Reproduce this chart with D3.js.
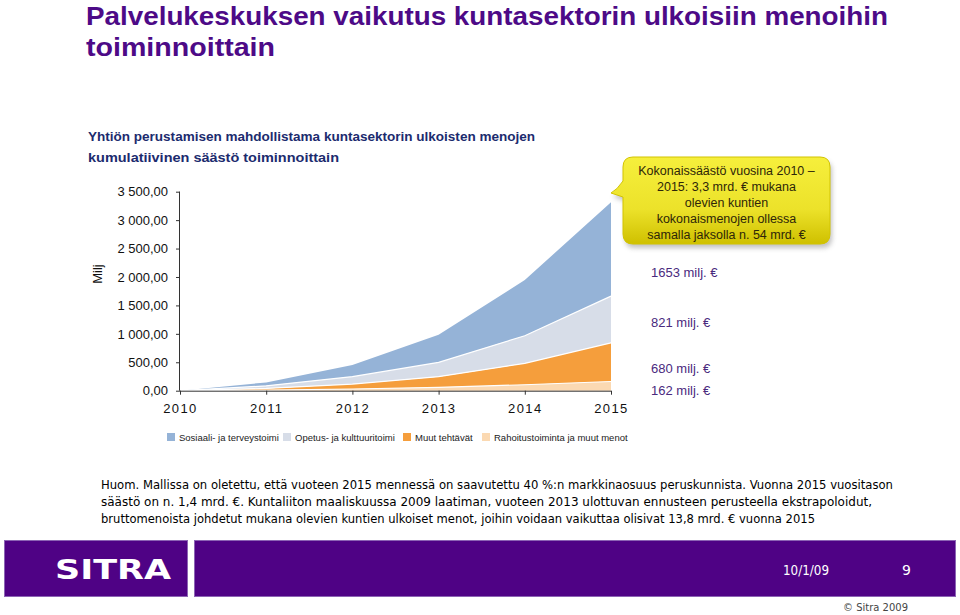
<!DOCTYPE html>
<html lang="fi">
<head>
<meta charset="utf-8">
<title>Palvelukeskuksen vaikutus</title>
<script src="https://d3js.org/d3.v7.min.js"></script>
<style>
  body { margin: 0; background: #fff; }
  svg text { font-family: "Liberation Sans", Arial, sans-serif; }
</style>
</head>
<body>
<svg id="chart" width="960" height="615"></svg>
<script>
// data (milj. euroa, kumulatiivinen)
var years = [2010, 2011, 2012, 2013, 2014, 2015]
var rahoitus = [0, 10, 30, 59, 105, 162]
var muut = [0, 30, 87, 187, 376, 680]
var opetus = [0, 45, 129, 252, 486, 821]
var sosiaali = [0, 60, 205, 487, 979, 1653]

var seriesNames = ["Sosiaali- ja terveystoimi", "Opetus- ja kulttuuritoimi", "Muut tehtävät", "Rahoitustoiminta ja muut menot"]
var seriesColors = ["#95b3d7", "#d7dde8", "#f59e3c", "#fbd9b2"]
var yTicks = [0, 500, 1000, 1500, 2000, 2500, 3000, 3500]
var endLabels = ["1653 milj. €", "821 milj. €", "680 milj. €", "162 milj. €"]

var calloutLines = ["Kokonaissäästö vuosina 2010 –", "2015: 3,3 mrd. € mukana", "olevien kuntien", "kokonaismenojen ollessa", "samalla jaksolla n. 54 mrd. €"]
var noteLines = [
  "Huom. Mallissa on oletettu, että vuoteen 2015 mennessä on saavutettu 40 %:n markkinaosuus peruskunnista. Vuonna 2015 vuositason",
  "säästö on n. 1,4 mrd. €. Kuntaliiton maaliskuussa 2009 laatiman, vuoteen 2013 ulottuvan ennusteen perusteella ekstrapoloidut,",
  "bruttomenoista johdetut mukana olevien kuntien ulkoiset menot, joihin voidaan vaikuttaa olisivat 13,8 mrd. € vuonna 2015"
]

var svg = d3.select("#chart")

// main title
var title = svg.append("g").attr("fill", "#4d0a87")
  .style("font-family", "'DejaVu Sans', Verdana, sans-serif").style("font-weight", "bold").style("font-size", "25px")
title.append("text").attr("x", 86).attr("y", 25).attr("textLength", 802).attr("lengthAdjust", "spacingAndGlyphs")
  .text("Palvelukeskuksen vaikutus kuntasektorin ulkoisiin menoihin")
title.append("text").attr("x", 86).attr("y", 56).attr("textLength", 189).attr("lengthAdjust", "spacingAndGlyphs")
  .text("toiminnoittain")

// chart subtitle
var sub = svg.append("g").attr("fill", "#1c2b6e")
  .style("font-family", "'DejaVu Sans', Verdana, sans-serif").style("font-weight", "bold").style("font-size", "12.5px")
sub.append("text").attr("x", 88).attr("y", 141).attr("textLength", 447).attr("lengthAdjust", "spacingAndGlyphs")
  .text("Yhtiön perustamisen mahdollistama kuntasektorin ulkoisten menojen")
sub.append("text").attr("x", 88).attr("y", 162).attr("textLength", 251).attr("lengthAdjust", "spacingAndGlyphs")
  .text("kumulatiivinen säästö toiminnoittain")

// scales
var x = d3.scaleLinear().domain([2010, 2015]).range([180, 611])
var y = d3.scaleLinear().domain([0, 3500]).range([390.7, 191.7])

// stacked data (bottom to top)
var rows = years.map(function(yr, i) {
  return {year: yr, r: rahoitus[i], m: muut[i], o: opetus[i], s: sosiaali[i]}
})
var keys = ["r", "m", "o", "s"]
var colorOf = {s: seriesColors[0], o: seriesColors[1], m: seriesColors[2], r: seriesColors[3]}
var stack = d3.stack().keys(keys)(rows)

var area = d3.area()
  .x(function(d) { return x(d.data.year) })
  .y0(function(d) { return y(d[0]) })
  .y1(function(d) { return y(d[1]) })

var topLine = d3.line()
  .x(function(d) { return x(d.data.year) })
  .y(function(d) { return y(d[1]) })

svg.append("g").selectAll("path").data(stack).enter().append("path")
  .attr("d", area)
  .attr("fill", function(d) { return colorOf[d.key] })

// thin white separators between layers
svg.append("g").selectAll("path").data(stack.slice(0, 3)).enter().append("path")
  .attr("d", topLine)
  .attr("fill", "none").attr("stroke", "#fff").attr("stroke-width", 1.2)

// axes
var fi = d3.formatLocale({decimal: ",", thousands: " ", grouping: [3], currency: ["", " €"]})
var yAxis = svg.append("g").attr("transform", "translate(180,0)")
  .call(d3.axisLeft(y).tickValues(yTicks).tickFormat(fi.format(",.2f")).tickSize(4).tickPadding(8))
yAxis.selectAll("text").style("font-size", "13px").attr("fill", "#111")
yAxis.selectAll("line, path").attr("stroke", "#333")
yAxis.select(".domain").attr("d", "M-0.5," + y(3500) + "V" + y(0))

var xAxis = svg.append("g").attr("transform", "translate(0," + y(0) + ")")
  .call(d3.axisBottom(x).tickValues(years).tickFormat(d3.format("d")).tickSize(4).tickPadding(9))
xAxis.selectAll("text").style("font-size", "13px").style("letter-spacing", "1.4px").attr("fill", "#111")
xAxis.selectAll("line, path").attr("stroke", "#333")
xAxis.select(".domain").attr("d", "M" + x(2010) + ",0.5H" + x(2015))

svg.append("text").attr("transform", "translate(102,274) rotate(-90)")
  .attr("text-anchor", "middle").style("font-size", "13px").attr("fill", "#111").text("Milj")

// legend
var legendX = [167, 283, 403, 482]
var legend = svg.append("g").selectAll("g").data(seriesNames).enter().append("g")
  .attr("transform", function(d, i) { return "translate(" + legendX[i] + ",433)" })
legend.append("rect").attr("width", 8).attr("height", 8).attr("fill", function(d, i) { return seriesColors[i] })
legend.append("text").attr("x", 12).attr("y", 7.5).style("font-size", "9.5px").attr("fill", "#222").text(function(d) { return d })

// end labels
var labelY = [277, 327, 373, 395]
svg.append("g").selectAll("text").data(endLabels).enter().append("text")
  .attr("x", 651).attr("y", function(d, i) { return labelY[i] })
  .style("font-size", "13px").attr("fill", "#4a2a7e").text(function(d) { return d })

// yellow callout
var defs = svg.append("defs")
var grad = defs.append("linearGradient").attr("id", "yel").attr("x1", 0).attr("y1", 0).attr("x2", 0).attr("y2", 1)
grad.append("stop").attr("offset", "0%").attr("stop-color", "#f6ef3c")
grad.append("stop").attr("offset", "60%").attr("stop-color", "#ece22a")
grad.append("stop").attr("offset", "100%").attr("stop-color", "#cfc000")
var blur = defs.append("filter").attr("id", "shadow").attr("x", "-10%").attr("y", "-10%").attr("width", "130%").attr("height", "140%")
blur.append("feGaussianBlur").attr("stdDeviation", 2.5)

var cx0 = 623, cy0 = 157, cw = 207, ch = 87
var calloutPath = "M" + (cx0 + 10) + "," + cy0 + "H" + (cx0 + cw - 10) + "Q" + (cx0 + cw) + "," + cy0 + " " + (cx0 + cw) + "," + (cy0 + 10) +
  "V" + (cy0 + ch - 10) + "Q" + (cx0 + cw) + "," + (cy0 + ch) + " " + (cx0 + cw - 10) + "," + (cy0 + ch) +
  "H" + (cx0 + 10) + "Q" + cx0 + "," + (cy0 + ch) + " " + cx0 + "," + (cy0 + ch - 10) +
  "V197L611,193Q617,190 " + cx0 + ",181V" + (cy0 + 10) + "Q" + cx0 + "," + cy0 + " " + (cx0 + 10) + "," + cy0 + "Z"
svg.append("path").attr("d", calloutPath).attr("transform", "translate(2,4)")
  .attr("fill", "#777").attr("opacity", 0.45).attr("filter", "url(#shadow)")
svg.append("path").attr("d", calloutPath).attr("fill", "url(#yel)").attr("stroke", "#d2c400").attr("stroke-width", 1)
svg.append("g").selectAll("text").data(calloutLines).enter().append("text")
  .attr("x", cx0 + cw / 2).attr("y", function(d, i) { return 175 + i * 16 })
  .attr("text-anchor", "middle").style("font-size", "12.5px").attr("fill", "#2e2608")
  .text(function(d) { return d })

// note
var noteLen = [792, 771, 714]
svg.append("g").selectAll("text").data(noteLines).enter().append("text")
  .attr("x", 101).attr("y", function(d, i) { return 489 + i * 17 })
  .attr("textLength", function(d, i) { return noteLen[i] }).attr("lengthAdjust", "spacingAndGlyphs")
  .style("font-family", "'DejaVu Sans', Tahoma, sans-serif").style("font-size", "12.5px").attr("fill", "#000")
  .text(function(d) { return d })

// footer band
svg.append("rect").attr("x", 4.5).attr("y", 540.5).attr("width", 183).attr("height", 56)
  .attr("fill", "#4f0285").attr("stroke", "#8c64b4")
svg.append("rect").attr("x", 194.5).attr("y", 540.5).attr("width", 761).attr("height", 56)
  .attr("fill", "#4f0285").attr("stroke", "#8c64b4")
svg.append("text").attr("x", 55).attr("y", 579).attr("textLength", 116).attr("lengthAdjust", "spacingAndGlyphs")
  .style("font-family", "'DejaVu Sans', sans-serif").style("font-weight", "bold").style("font-size", "27px")
  .attr("fill", "#fff").text("SITRA")
svg.append("text").attr("x", 783).attr("y", 575).attr("textLength", 46).attr("lengthAdjust", "spacingAndGlyphs")
  .style("font-family", "'DejaVu Sans', Tahoma, sans-serif").style("font-size", "14px").attr("fill", "#fff").text("10/1/09")
svg.append("text").attr("x", 902).attr("y", 575)
  .style("font-family", "'DejaVu Sans', Tahoma, sans-serif").style("font-size", "14px").attr("fill", "#fff").text("9")
svg.append("text").attr("x", 843).attr("y", 611).attr("textLength", 65).attr("lengthAdjust", "spacingAndGlyphs")
  .style("font-family", "'DejaVu Sans', Tahoma, sans-serif").style("font-size", "11px").attr("fill", "#444").text("© Sitra 2009")
</script>
</body>
</html>
